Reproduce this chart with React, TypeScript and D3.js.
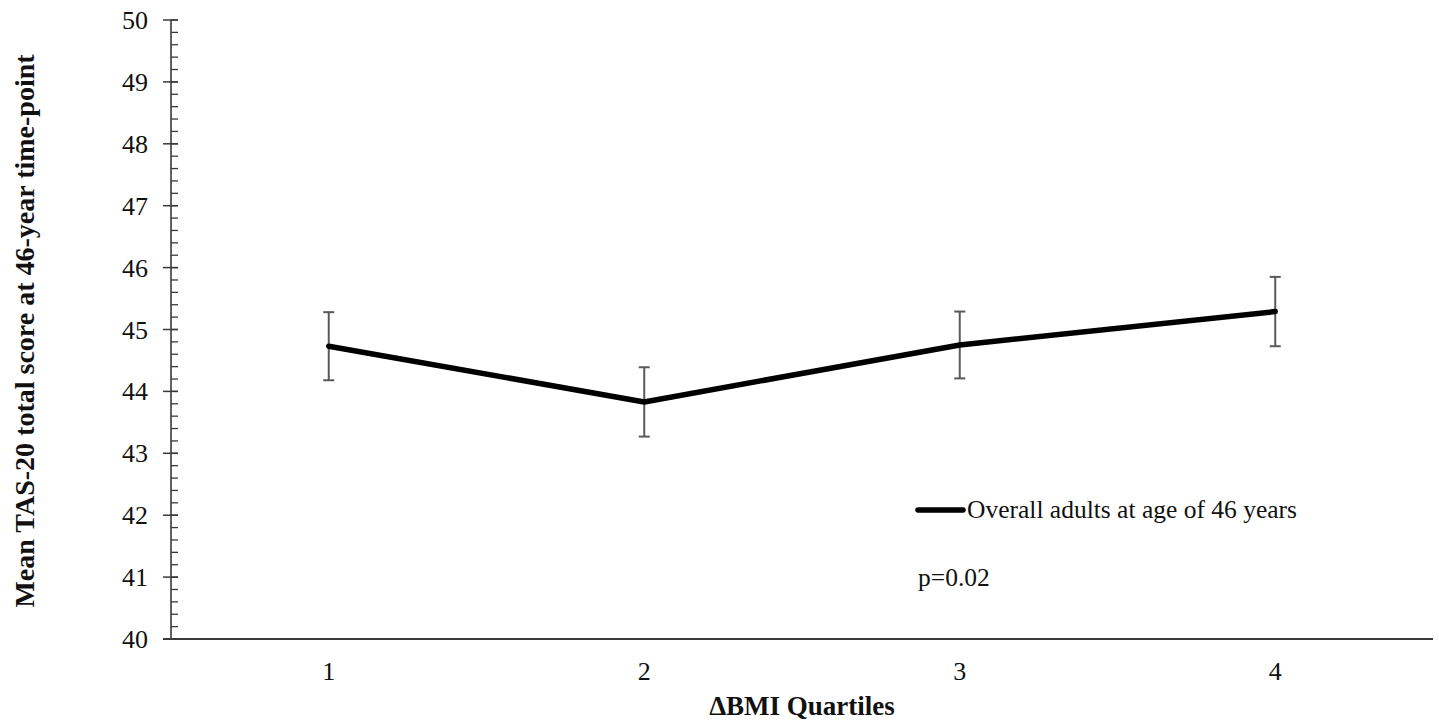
import React from "react";
import * as d3 from "d3";

const categories = ["1", "2", "3", "4"];
const means = [44.73, 43.83, 44.75, 45.29];
const errors = [0.55, 0.56, 0.54, 0.56];
const yTicks = [40, 41, 42, 43, 44, 45, 46, 47, 48, 49, 50];
const seriesName = "Overall adults at age of 46 years";
const pText = "p=0.02";
const xTitle = "ΔBMI Quartiles";
const yTitle = "Mean TAS-20 total score at 46-year time-point";

const W = 1439;
const H = 723;
const M = { left: 171, right: 1433, top: 20, bottom: 639 };
const FONT = "'Liberation Serif', 'Times New Roman', serif";

export default function App() {
  const x = d3.scaleBand<string>().domain(categories).range([M.left, M.right]).padding(0);
  const y = d3.scaleLinear().domain([40, 50]).range([M.bottom, M.top]);
  const cx = (c: string) => (x(c) as number) + x.bandwidth() / 2;
  const minor = d3.range(40, 50.001, 0.2);
  const line = d3
    .line<number>()
    .x((_, i) => cx(categories[i]))
    .y((d) => y(d));
  const axisColor = "#3a3a3a";
  const errColor = "#5a5a5a";
  return (
    <svg width={W} height={H} style={{ position: "absolute", left: 0, top: 0, background: "#fff" }}>
      {/* y axis */}
      <line x1={M.left} x2={M.left} y1={y(50)} y2={y(40)} stroke={axisColor} strokeWidth={1.6} />
      {minor.map((v, i) => (
        <line key={"m" + i} x1={M.left} x2={M.left + 7} y1={y(v)} y2={y(v)} stroke={axisColor} strokeWidth={1.3} />
      ))}
      {yTicks.map((t) => (
        <g key={"t" + t}>
          <line x1={M.left - 8} x2={M.left + 7} y1={y(t)} y2={y(t)} stroke={axisColor} strokeWidth={1.5} />
          <text x={148} y={y(t) + 9} textAnchor="end" fontFamily={FONT} fontSize={26} fill="#111">
            {t}
          </text>
        </g>
      ))}
      {/* x axis */}
      <line x1={M.left - 8} x2={M.right} y1={y(40)} y2={y(40)} stroke={axisColor} strokeWidth={2} />
      {categories.map((c) => (
        <text key={"x" + c} x={cx(c)} y={680} textAnchor="middle" fontFamily={FONT} fontSize={26} fill="#111">
          {c}
        </text>
      ))}
      {/* error bars */}
      {means.map((m, i) => {
        const px = cx(categories[i]);
        const t = y(m + errors[i]);
        const b = y(m - errors[i]);
        return (
          <g key={"e" + i} stroke={errColor} strokeWidth={2}>
            <line x1={px} x2={px} y1={t} y2={b} />
            <line x1={px - 5.5} x2={px + 5.5} y1={t} y2={t} />
            <line x1={px - 5.5} x2={px + 5.5} y1={b} y2={b} />
          </g>
        );
      })}
      {/* line */}
      <path d={line(means) || ""} fill="none" stroke="#000" strokeWidth={5.5} strokeLinejoin="round" strokeLinecap="round" />
      {/* legend */}
      <line x1={918} x2={963} y1={510} y2={510} stroke="#000" strokeWidth={5.5} strokeLinecap="round" />
      <text x={967} y={518} fontFamily={FONT} fontSize={25.5} fill="#111">
        {seriesName}
      </text>
      <text x={918} y={586} fontFamily={FONT} fontSize={25.5} fill="#111">
        {pText}
      </text>
      {/* titles */}
      <text x={(M.left + M.right) / 2} y={715} textAnchor="middle" fontFamily={FONT} fontSize={27} fontWeight="bold" fill="#111">
        {xTitle}
      </text>
      <text
        transform={`translate(34, ${(52 + 610) / 2}) rotate(-90)`}
        textAnchor="middle"
        fontFamily={FONT}
        fontSize={28}
        fontWeight="bold"
        fill="#111"
      >
        {yTitle}
      </text>
    </svg>
  );
}
